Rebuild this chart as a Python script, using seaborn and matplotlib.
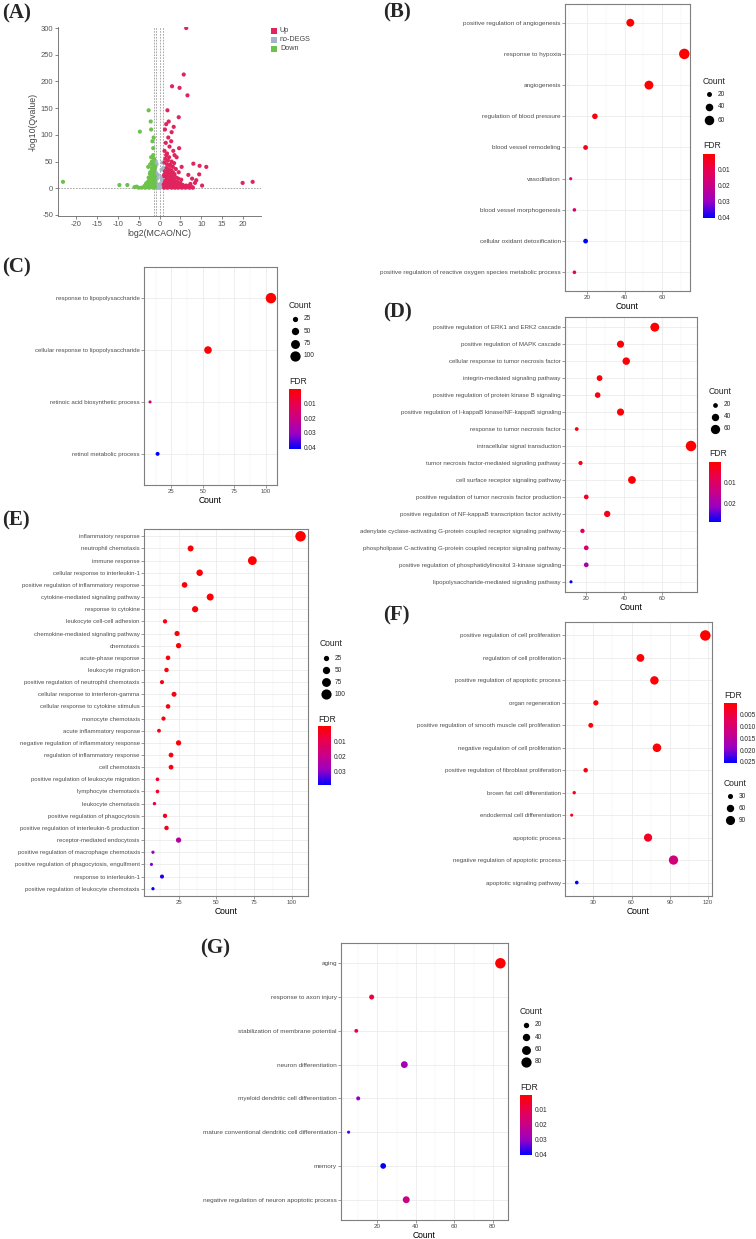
import numpy as np
import pandas as pd
import matplotlib
matplotlib.use("Agg")
import matplotlib.pyplot as plt
import matplotlib.cm as cm
import seaborn as sns
from matplotlib.colors import LinearSegmentedColormap, Normalize
from matplotlib.ticker import AutoMinorLocator

W, H = 756, 1239

# ---------------- data ----------------
# (A) volcano, points
up_x = [1.1, 1.3, 1.5, 1.7, 1.9, 2.1, 2.3, 2.5, 2.7, 2.9, 3.1, 3.3, 3.5, 3.7, 3.9, 4.1, 4.3, 4.5, 4.8, 5.1, 5.4, 5.8, 6.2, 6.7, 7.2, 7.8,
        1.2, 1.4, 1.6, 1.8, 2.0, 2.2, 2.4, 2.6, 2.8, 3.0, 3.2, 3.4, 3.6, 3.8, 4.0, 4.4, 4.7, 5.0, 5.5, 6.0, 6.5,
        1.1, 1.3, 1.5, 1.7, 1.9, 2.1, 2.3, 2.5, 2.7, 2.9, 3.1, 3.3, 3.6, 4.0, 4.5, 5.2,
        1.2, 1.4, 1.6, 1.8, 2.0, 2.3, 2.6, 2.9, 3.2, 3.5, 3.9, 4.6, 5.3,
        1.2, 1.5, 1.8, 2.1, 2.4, 2.8, 3.3, 3.6, 4.1, 4.7,
        1.3, 1.6, 2.2, 2.9, 3.4, 4.6, 1.9, 3.0, 4.8, 5.8, 6.7, 6.4,
        8.1, 9.6, 11.2, 9.5, 8.5, 7.8, 6.9, 19.9, 22.3, 10.2, 8.8, 7.4,
        1.0, 1.2, 1.4, 1.6, 1.8, 2.0, 2.2, 2.4, 2.6, 2.8, 3.0, 3.4, 3.8, 4.2, 4.6, 5.0, 5.6, 6.4, 7.0, 8.0]
up_y = [1, 3, 2, 5, 1, 4, 2, 6, 3, 1, 4, 2, 5, 1, 3, 2, 4, 1, 3, 2, 1, 3, 1, 2, 1, 2,
        10, 14, 8, 18, 12, 16, 9, 20, 13, 17, 11, 15, 8, 12, 9, 6, 5, 7, 5, 4, 3,
        25, 32, 28, 38, 24, 35, 30, 42, 27, 33, 22, 29, 26, 20, 18, 16,
        48, 55, 62, 45, 52, 58, 44, 50, 40, 47, 36, 30, 40,
        70, 85, 65, 95, 78, 88, 70, 62, 58, 75,
        110, 120, 125, 105, 115, 133, 146, 191, 188, 213, 174, 300,
        46, 42, 40, 26, 10, 18, 25, 10, 12, 5, 15, 8,
        7, 22, 5, 30, 7, 26, 6, 35, 8, 22, 7, 18, 9, 12, 8, 10, 6, 5, 4, 1]
down_x = [-1.1, -1.3, -1.5, -1.7, -1.9, -2.1, -2.3, -2.5, -2.8, -3.1, -3.4, -3.8, -4.3, -5.0, -6.0,
          -1.2, -1.4, -1.6, -1.8, -2.0, -2.2, -2.4, -2.7, -3.0, -3.5,
          -1.1, -1.3, -1.5, -1.7, -1.9, -2.1, -2.4, -2.8,
          -1.2, -1.4, -1.6, -1.8, -2.0, -2.3, -2.6,
          -1.3, -1.5, -1.8, -2.0, -2.2, -2.7,
          -1.5, -1.7, -2.0, -2.1, -2.6, -4.7, -1.4,
          -9.6, -7.7, -23.1, -5.5,
          -1.0, -1.2, -1.4, -1.6, -1.8, -2.0, -2.2, -2.6, -3.2, -1.1, -1.5, -1.9]
down_y = [2, 4, 1, 5, 3, 2, 6, 1, 3, 2, 1, 2, 1, 1, 2,
          10, 14, 8, 12, 16, 9, 11, 7, 6, 5,
          22, 28, 18, 25, 20, 15, 17, 12,
          35, 42, 48, 38, 30, 27, 20,
          55, 62, 50, 58, 45, 40,
          75, 88, 110, 125, 146, 106, 95,
          6, 6, 12, 3,
          40, 7, 30, 4, 33, 5, 30, 4, 9, 15, 44, 24]
nodeg_x = [-0.9, -0.7, -0.5, -0.3, -0.1, 0.1, 0.3, 0.5, 0.7, 0.9, -0.8, -0.6,
           -0.2, 0.2, 0.6, 0.8, -0.9, -0.4, 0.4, 0.9, -0.7, 0.5, -0.9, 0.7]
nodeg_y = [2, 1, 3, 1, 2, 1, 3, 2, 4, 3, 10, 18, 6, 8, 15, 22, 30, 25, 20, 38, 45, 35, 50, 48]

# (B)
b_terms = ["positive regulation of angiogenesis", "response to hypoxia", "angiogenesis",
           "regulation of blood pressure", "blood vessel remodeling", "vasodilation",
           "blood vessel morphogenesis", "cellular oxidant detoxification",
           "positive regulation of reactive oxygen species metabolic process"]
b_count = [43, 72, 53, 24, 19, 11, 13, 19, 13]
b_fdr = [0.0005, 0.0003, 0.0005, 0.002, 0.003, 0.016, 0.015, 0.0405, 0.013]

# (C)
c_terms = ["response to lipopolysaccharide", "cellular response to lipopolysaccharide",
           "retinoic acid biosynthetic process", "retinol metabolic process"]
c_count = [104, 54, 8, 14]
c_fdr = [0.0003, 0.001, 0.018, 0.041]

# (D)
d_terms = ["positive regulation of ERK1 and ERK2 cascade", "positive regulation of MAPK cascade",
           "cellular response to tumor necrosis factor", "integrin-mediated signaling pathway",
           "positive regulation of protein kinase B signaling",
           "positive regulation of I-kappaB kinase/NF-kappaB signaling",
           "response to tumor necrosis factor", "intracellular signal transduction",
           "tumor necrosis factor-mediated signaling pathway", "cell surface receptor signaling pathway",
           "positive regulation of tumor necrosis factor production",
           "positive regulation of NF-kappaB transcription factor activity",
           "adenylate cyclase-activating G-protein coupled receptor signaling pathway",
           "phospholipase C-activating G-protein coupled receptor signaling pathway",
           "positive regulation of phosphatidylinositol 3-kinase signaling",
           "lipopolysaccharide-mediated signaling pathway"]
d_count = [56, 38, 41, 27, 26, 38, 15, 75, 17, 44, 20, 31, 18, 20, 20, 12]
d_fdr = [0.0005, 0.001, 0.001, 0.001, 0.002, 0.001, 0.002, 0.0003, 0.002, 0.001,
         0.004, 0.003, 0.009, 0.011, 0.019, 0.0286]

# (E)
e_terms = ["inflammatory response", "neutrophil chemotaxis", "immune response",
           "cellular response to interleukin-1", "positive regulation of inflammatory response",
           "cytokine-mediated signaling pathway", "response to cytokine",
           "leukocyte cell-cell adhesion", "chemokine-mediated signaling pathway", "chemotaxis",
           "acute-phase response", "leukocyte migration",
           "positive regulation of neutrophil chemotaxis", "cellular response to interferon-gamma",
           "cellular response to cytokine stimulus", "monocyte chemotaxis",
           "acute inflammatory response", "negative regulation of inflammatory response",
           "regulation of inflammatory response", "cell chemotaxis",
           "positive regulation of leukocyte migration", "lymphocyte chemotaxis",
           "leukocyte chemotaxis", "positive regulation of phagocytosis",
           "positive regulation of interleukin-6 production", "receptor-mediated endocytosis",
           "positive regulation of macrophage chemotaxis",
           "positive regulation of phagocytosis, engulfment", "response to interleukin-1",
           "positive regulation of leukocyte chemotaxis"]
e_count = [106, 33, 74, 39, 29, 46, 36, 16, 24, 25, 18, 17, 14, 22, 18, 15,
           12, 25, 20, 20, 11, 11, 9, 16, 17, 25, 8, 7, 14, 8]
e_fdr = [0.000001, 0.0005, 0.0001, 0.0005, 0.001, 0.0005, 0.001, 0.002, 0.001, 0.001,
         0.001, 0.001, 0.002, 0.002, 0.002, 0.002, 0.002, 0.001, 0.002, 0.002,
         0.006, 0.006, 0.008, 0.004, 0.004, 0.024, 0.028, 0.031, 0.037, 0.039]

# (F)
f_terms = ["positive regulation of cell proliferation", "regulation of cell proliferation",
           "positive regulation of apoptotic process", "organ regeneration",
           "positive regulation of smooth muscle cell proliferation",
           "negative regulation of cell proliferation",
           "positive regulation of fibroblast proliferation", "brown fat cell differentiation",
           "endodermal cell differentiation", "apoptotic process",
           "negative regulation of apoptotic process", "apoptotic signaling pathway"]
f_count = [118, 67, 78, 32, 28, 80, 24, 15, 13, 73, 93, 17]
f_fdr = [0.00005, 0.0003, 0.0005, 0.0008, 0.001, 0.0005, 0.001, 0.0015, 0.002, 0.003, 0.011, 0.0255]

# (G)
g_terms = ["aging", "response to axon injury", "stabilization of membrane potential",
           "neuron differentiation", "myeloid dendritic cell differentiation",
           "mature conventional dendritic cell differentiation", "memory",
           "negative regulation of neuron apoptotic process"]
g_count = [84, 17, 9, 34, 10, 5, 23, 35]
g_fdr = [0.0007, 0.008, 0.011, 0.028, 0.031, 0.036, 0.0405, 0.02]

# ---------------- style ----------------
sns.set_theme(style="white")
plt.rcParams["font.family"] = ["Liberation Sans", "DejaVu Sans"]
plt.rcParams["axes.unicode_minus"] = False

fdr_cmap = LinearSegmentedColormap.from_list(
    "fdr", ["#FF0000", "#E8004F", "#C90088", "#9900C3", "#0000FF"])
DOT_AREA = (5, 57)
TXT = "#4D4D4D"

fig = plt.figure(figsize=(W / 100, H / 100), dpi=100)
fig.patch.set_facecolor("white")


def rect(left, top, right, bottom):
    return [left / W, 1 - bottom / H, (right - left) / W, (bottom - top) / H]


# overlay in pixel coordinates for panel letters and legends
overlay = fig.add_axes([0, 0, 1, 1], zorder=10)
overlay.set_xlim(0, W)
overlay.set_ylim(H, 0)
overlay.axis("off")


def panel_letter(x, y, s):
    overlay.text(x, y, s, fontsize=15, fontweight="bold", family="Liberation Serif",
                 ha="left", va="center")


def dot_area(v, counts):
    lo, hi = min(counts), max(counts)
    t = max(0.0, (v - lo) / (hi - lo))
    return DOT_AREA[0] + t * (DOT_AREA[1] - DOT_AREA[0])


def dot_panel(box, terms, counts, fdr, xticks, fs):
    ax = fig.add_axes(rect(*box))
    df = pd.DataFrame({"term": terms, "Count": counts, "FDR": fdr})
    sns.scatterplot(data=df, x="Count", y="term", hue="FDR", size="Count",
                    palette=fdr_cmap, hue_norm=(min(fdr), max(fdr)),
                    sizes=DOT_AREA, size_norm=(min(counts), max(counts)),
                    linewidth=0, legend=False, ax=ax, zorder=3)
    lo, hi = min(counts), max(counts)
    pad = 0.05 * (hi - lo)
    ax.set_xlim(lo - pad, hi + pad)
    ax.set_ylim(len(terms) - 0.4, -0.6)
    ax.set_yticks(range(len(terms)))
    ax.set_yticklabels(terms)
    ax.set_xticks(xticks)
    ax.xaxis.set_minor_locator(AutoMinorLocator(2))
    ax.grid(which="major", color="#EBEBEB", lw=0.6)
    ax.grid(which="minor", axis="x", color="#F2F2F2", lw=0.35)
    ax.set_axisbelow(True)
    ax.tick_params(which="major", bottom=True, left=True, labelsize=fs, labelcolor=TXT,
                   color=TXT, length=2, width=0.4, pad=1)
    ax.tick_params(which="minor", length=0)
    ax.set_ylabel("")
    ax.set_xlabel("Count", fontsize=6.2, labelpad=1, color="black")
    for sp in ax.spines.values():
        sp.set_color("#7F7F7F")
        sp.set_linewidth(0.8)
    return ax


def fdr_bar(box, fdr, ticks, labels, title_y):
    overlay.text(box[0], title_y, "FDR", fontsize=6.2, ha="left", va="center")
    cax = fig.add_axes(rect(*box))
    sm = cm.ScalarMappable(norm=Normalize(min(fdr), max(fdr)), cmap=fdr_cmap)
    cb = fig.colorbar(sm, cax=cax, ticks=ticks)
    cb.outline.set_visible(False)
    cb.set_ticklabels(labels)
    cax.invert_yaxis()
    cax.tick_params(labelsize=4.7, length=2, color="white", width=0.5,
                    direction="in", pad=2, right=True)


def count_legend(x, y_title, y0, step, breaks, counts):
    overlay.text(x, y_title, "Count", fontsize=6.2, ha="left", va="center")
    for i, b in enumerate(breaks):
        yy = y0 + i * step
        overlay.scatter([x + 6], [yy], s=dot_area(b, counts), color="black", linewidth=0)
        overlay.text(x + 15, yy, str(b), fontsize=4.7, ha="left", va="center")


# ---------------- (A) volcano ----------------
vdf = pd.concat([
    pd.DataFrame({"log2FC": nodeg_x, "q": nodeg_y, "group": "no-DEGS"}),
    pd.DataFrame({"log2FC": up_x, "q": up_y, "group": "Up"}),
    pd.DataFrame({"log2FC": down_x, "q": down_y, "group": "Down"}),
])
vol_colors = {"Up": "#E0245E", "no-DEGS": "#A3B4C8", "Down": "#6CC24A"}
axA = fig.add_axes(rect(58, 27, 261, 216))
sns.scatterplot(data=vdf, x="log2FC", y="q", hue="group", palette=vol_colors,
                s=9, linewidth=0, legend=False, ax=axA, zorder=3)
for xv in [-1.25, -0.9, 0.0, 0.9]:
    axA.axvline(xv, color="#9A9A9A", lw=0.6, ls=(0, (2, 1.5)), zorder=2)
axA.axhline(0, color="#9A9A9A", lw=0.6, ls=(0, (2, 1.5)), zorder=2)
axA.set_xlim(-24.3, 24.3)
axA.set_ylim(-52, 302)
axA.set_xticks(range(-20, 21, 5))
axA.set_yticks(range(-50, 301, 50))
axA.tick_params(bottom=True, left=True, labelsize=5.5, labelcolor="#555555",
                color="#555555", length=2, width=0.5, pad=1.5)
for side in ["top", "right"]:
    axA.spines[side].set_visible(False)
for side in ["left", "bottom"]:
    axA.spines[side].set_color("#666666")
    axA.spines[side].set_linewidth(0.6)
axA.set_xlabel("log2(MCAO/NC)", fontsize=6.3, color="#444444", labelpad=1)
axA.set_ylabel("-log10(Qvalue)", fontsize=6.3, color="#444444", labelpad=2)
for i, g in enumerate(["Up", "no-DEGS", "Down"]):
    yy = 30.5 + i * 9.2
    overlay.scatter([274], [yy], s=14, marker="s", color=vol_colors[g], linewidth=0)
    overlay.text(280, yy, g, fontsize=5.2, color="#444444", ha="left", va="center")

# ---------------- dot plots ----------------
dot_panel((565, 4, 690, 291), b_terms, b_count, b_fdr, [20, 40, 60], 4.6)
count_legend(703, 81, 94, 13, [20, 40, 60], b_count)
fdr_bar((703, 154, 715, 218), b_fdr, [0.01, 0.02, 0.03, 0.04],
        ["0.01", "0.02", "0.03", "0.04"], 146)

dot_panel((144, 267, 277, 485), c_terms, c_count, c_fdr, [25, 50, 75, 100], 4.45)
count_legend(289, 305, 319, 12.3, [25, 50, 75, 100], c_count)
fdr_bar((289, 389, 301, 449), c_fdr, [0.01, 0.02, 0.03, 0.04],
        ["0.01", "0.02", "0.03", "0.04"], 382)

dot_panel((565, 317, 697, 592), d_terms, d_count, d_fdr, [20, 40, 60], 4.45)
count_legend(709, 391, 405, 12, [20, 40, 60], d_count)
fdr_bar((709, 462, 721, 522), d_fdr, [0.01, 0.02], ["0.01", "0.02"], 454)

dot_panel((144, 529, 308, 896), e_terms, e_count, e_fdr, [25, 50, 75, 100], 4.3)
count_legend(320, 644, 658, 12, [25, 50, 75, 100], e_count)
fdr_bar((318, 726, 331, 785), e_fdr, [0.01, 0.02, 0.03], ["0.01", "0.02", "0.03"], 719)

dot_panel((565, 622, 712, 896), f_terms, f_count, f_fdr, [30, 60, 90, 120], 4.4)
fdr_bar((724, 703, 737, 763), f_fdr, [0.005, 0.010, 0.015, 0.020, 0.025],
        ["0.005", "0.010", "0.015", "0.020", "0.025"], 695)
count_legend(724, 783, 796, 12, [30, 60, 90], f_count)

dot_panel((341, 943, 508, 1220), g_terms, g_count, g_fdr, [20, 40, 60, 80], 4.55)
count_legend(520, 1011, 1025, 12.3, [20, 40, 60, 80], g_count)
fdr_bar((520, 1095, 532, 1155), g_fdr, [0.01, 0.02, 0.03, 0.04],
        ["0.01", "0.02", "0.03", "0.04"], 1087)

# panel letters
panel_letter(2, 13, "(A)")
panel_letter(383, 12, "(B)")
panel_letter(2, 267, "(C)")
panel_letter(383, 312, "(D)")
panel_letter(2, 520, "(E)")
panel_letter(383, 615, "(F)")
panel_letter(200, 948, "(G)")

fig.savefig("out.png", dpi=100, facecolor="white")
